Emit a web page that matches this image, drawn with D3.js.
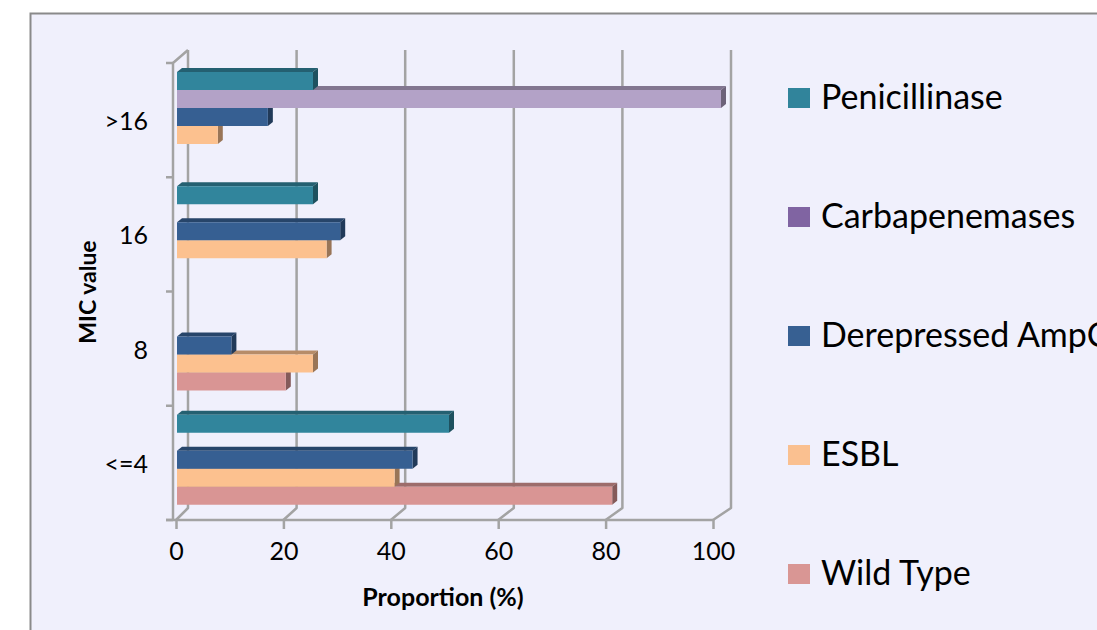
<!DOCTYPE html>
<html>
<head>
<meta charset="utf-8">
<script src="https://cdn.jsdelivr.net/npm/d3@7"></script>
<style>
  html, body { margin: 0; padding: 0; background: #ffffff; }
  svg { display: block; }
  text { font-family: Lato, "Open Sans", sans-serif; fill: #000; }
</style>
</head>
<body>
<svg id="chart" width="1097" height="630"></svg>
<script>
// MIC value categories, top to bottom
const categories = [">16", "16", "8", "<=4"];
// Series, in the order they are stacked within each category (top to bottom)
const seriesNames = ["Penicillinase", "Carbapenemases", "Derepressed AmpC", "ESBL", "Wild Type"];
// Proportion (%) per category for each series
const penicillinase   = [25, 25, 0, 50];
const carbapenemases  = [100, 0, 0, 0];
const derepressedAmpC = [16.7, 30, 10, 43.3];
const esbl            = [7.5, 27.5, 25, 40];
const wildType        = [0, 0, 20, 80];
const xTicks = [0, 20, 40, 60, 80, 100];

const seriesValues = [penicillinase, carbapenemases, derepressedAmpC, esbl, wildType];
const barColors    = ["#31859C", "#B3A2C7", "#365F92", "#FCC18F", "#D99594"];
const legendColors = ["#31849B", "#8064A2", "#376092", "#FAC090", "#D99694"];

const svg = d3.select("#chart");

// chart area frame
svg.append("rect")
  .attr("x", 30.5).attr("y", 13.5)
  .attr("width", 1200).attr("height", 700)
  .attr("fill", "#F0F0FC")
  .attr("stroke", "#8A8A8A").attr("stroke-width", 2);

// 3-D box geometry: front plane and back wall
const floorFront = 520, floorBack = 508;
const topFront = 63, topBack = 50;
const leftFront = 173;

const xFront = d3.scaleLinear().domain([0, 100]).range([176, 713]);
const xBack  = d3.scaleLinear().domain([0, 100]).range([188, 731]);
const xBar   = d3.scaleLinear().domain([0, 100]).range([177, 721]);

const yCat = d3.scaleBand().domain(categories).range([topFront, floorFront]).padding(0);
const ySer = d3.scaleBand().domain(seriesNames).range([9, 99]).padding(0);

const gridColor = "#A3A3A3";
const grid = svg.append("g")
  .attr("fill", "none").attr("stroke", gridColor)
  .attr("stroke-width", 2.5).attr("stroke-linejoin", "round");

// back-wall gridlines with their floor connectors
xTicks.forEach(t => {
  grid.append("path")
    .attr("d", `M${xFront(t)},${floorFront} L${xBack(t)},${floorBack} L${xBack(t)},${topBack}`);
});

// left wall: front edge and top connector
grid.append("path")
  .attr("d", `M${leftFront},${floorFront} L${leftFront},${topFront} L${xBack(0)},${topBack}`);

// category tick marks at band boundaries
const catEdges = categories.map(c => yCat(c)).concat([yCat(categories[categories.length - 1]) + yCat.bandwidth()]);
catEdges.forEach(y => {
  grid.append("line")
    .attr("x1", leftFront - 7).attr("x2", leftFront)
    .attr("y1", y).attr("y2", y);
});

// bottom value axis on the front plane
const xAxis = svg.append("g")
  .attr("transform", `translate(0,${floorFront})`)
  .call(d3.axisBottom(xFront).tickValues(xTicks).tickSize(9).tickPadding(13).tickSizeOuter(0));
xAxis.select(".domain")
  .attr("stroke", gridColor).attr("stroke-width", 2.5)
  .attr("d", `M${leftFront - 7},0H${xFront(100)}`);
xAxis.selectAll(".tick line").attr("stroke", gridColor).attr("stroke-width", 2.5);
xAxis.selectAll(".tick text")
  .style("font-family", "Lato, 'Open Sans', sans-serif")
  .style("font-size", "25px").attr("fill", "#000");

// category labels
svg.append("g").selectAll("text")
  .data(categories).join("text")
  .attr("x", 148)
  .attr("y", d => yCat(d) + yCat.bandwidth() / 2 + 10)
  .attr("text-anchor", "end")
  .style("font-size", "25px")
  .text(d => d);

// axis titles
svg.append("text")
  .attr("x", 443).attr("y", 606)
  .attr("text-anchor", "middle")
  .style("font-size", "25px").style("font-weight", "bold")
  .text("Proportion (%)");

svg.append("text")
  .attr("transform", "translate(96,292) rotate(-90)")
  .attr("text-anchor", "middle")
  .style("font-size", "23px").style("font-weight", "bold")
  .text("MIC value");

// bars: drawn bottom-up so each bar's front face covers the top face of the one below
const depthX = 5, depthY = 4, barH = ySer.bandwidth();
const barsG = svg.append("g");
const barData = [];
categories.forEach((c, ci) => {
  seriesNames.forEach((s, si) => {
    const v = seriesValues[si][ci];
    if (v > 0) barData.push({ c, s, si, v });
  });
});
barData.sort((a, b) => (yCat(b.c) + ySer(b.s)) - (yCat(a.c) + ySer(a.s)));

barData.forEach(d => {
  const col = d3.color(barColors[d.si]);
  const x0 = xBar(0), x1 = xBar(d.v);
  const y0 = yCat(d.c) + ySer(d.s), y1 = y0 + barH;
  const g = barsG.append("g");
  // top face
  g.append("path")
    .attr("d", `M${x0},${y0} L${x0 + depthX},${y0 - depthY} L${x1 + depthX},${y0 - depthY} L${x1},${y0} Z`)
    .attr("fill", col.darker(0.9));
  // side face
  g.append("path")
    .attr("d", `M${x1},${y0} L${x1 + depthX},${y0 - depthY} L${x1 + depthX},${y1 - depthY} L${x1},${y1} Z`)
    .attr("fill", col.darker(1.4));
  // front face
  g.append("rect")
    .attr("x", x0).attr("y", y0)
    .attr("width", x1 - x0).attr("height", barH)
    .attr("fill", col);
});

// legend
const legend = svg.append("g");
seriesNames.forEach((s, i) => {
  const cy = 98 + i * 119;
  legend.append("rect")
    .attr("x", 788).attr("y", cy - 10)
    .attr("width", 22).attr("height", 20)
    .attr("fill", legendColors[i]);
  legend.append("text")
    .attr("x", 821).attr("y", cy + 11)
    .style("font-size", "34px")
    .text(s);
});
</script>
</body>
</html>
